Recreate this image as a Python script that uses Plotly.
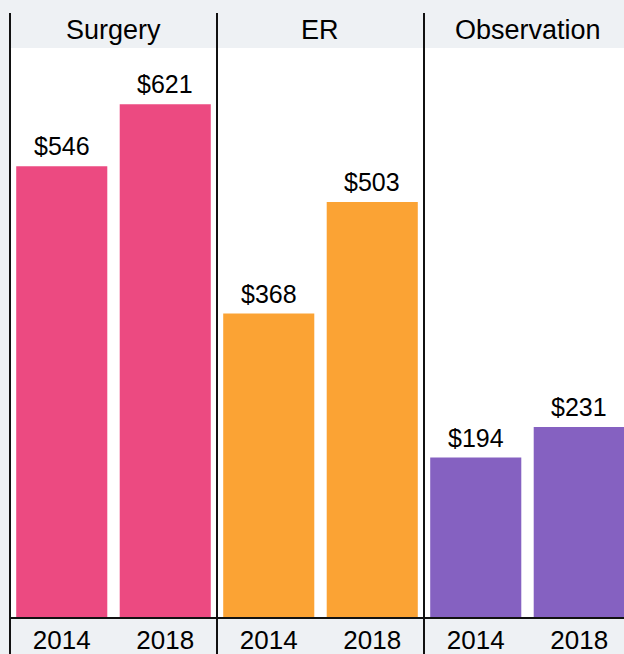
import plotly.graph_objects as go

categories = ["Surgery", "ER", "Observation"]
years = ["2014", "2018"]
values = {
    "Surgery": [546, 621],
    "ER": [368, 503],
    "Observation": [194, 231],
}
colors = {"Surgery": "#EC4A81", "ER": "#FBA334", "Observation": "#8561C1"}

W, H = 624, 654
MT, MB = 48, 36
PH = H - MT - MB
FONT = "Liberation Sans, Arial, sans-serif"

panel_px = [(10, 217), (217, 424), (424, 624)]
band = 103.5

fig = go.Figure()
for i, cat in enumerate(categories):
    ax = "" if i == 0 else str(i + 1)
    x0, x1 = panel_px[i]
    span = (x1 - x0) / band
    fig.add_trace(go.Bar(
        x=[0, 1], y=values[cat], width=0.88,
        marker=dict(color=colors[cat], line=dict(width=0)),
        xaxis="x" + ax, yaxis="y" + ax, showlegend=False, hoverinfo="skip",
    ))
    for xi, v in enumerate(values[cat]):
        fig.add_annotation(x=xi, y=v, xref="x" + ax, yref="y" + ax,
                           text="$" + str(v), showarrow=False,
                           xanchor="center", yanchor="bottom", yshift=4,
                           font=dict(family=FONT, size=25, color="black"))
    fig.update_layout(**{
        "xaxis" + ax: dict(domain=[x0 / W, x1 / W], range=[-0.5, -0.5 + span],
                           tickvals=[0, 1], ticktext=years, showgrid=False,
                           zeroline=False, ticks="", showline=False,
                           ticklabelstandoff=4,
                           tickfont=dict(family=FONT, size=26, color="black"),
                           anchor="y" + ax, fixedrange=True),
        "yaxis" + ax: dict(range=[0, 689], visible=False, showgrid=False,
                           anchor="x" + ax, fixedrange=True),
    })
    fig.add_annotation(x=(x0 + band) / W if i == 2 else (x0 + x1) / 2 / W,
                       y=(PH + MT - 30) / PH, xref="paper", yref="paper",
                       text=cat, showarrow=False, xanchor="center", yanchor="middle",
                       font=dict(family=FONT, size=27, color="black"))

# panel separators
for xp in [10, 217, 424]:
    fig.add_shape(type="line", xref="paper", yref="paper",
                  x0=xp / W, x1=xp / W, y0=-(MB + 2) / PH, y1=(PH + MT - 13) / PH,
                  line=dict(color="#111111", width=2))
fig.add_shape(type="line", xref="paper", yref="paper",
              x0=10 / W, x1=1, y0=0, y1=0, line=dict(color="#111111", width=2))

fig.update_layout(
    width=W, height=H, margin=dict(l=0, r=0, t=MT, b=MB),
    paper_bgcolor="#EEF1F4", plot_bgcolor="white",
    bargap=0.12, font=dict(family=FONT),
)
fig.write_html("out.html", config={"displayModeBar": False},
               post_script="document.body.style.margin='0';document.body.style.overflow='hidden';")
